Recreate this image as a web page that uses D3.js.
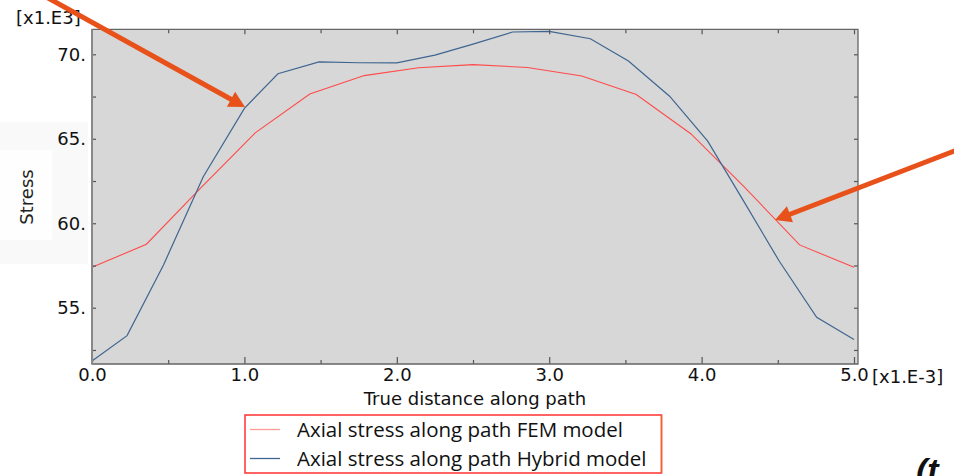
<!DOCTYPE html>
<html>
<head>
<meta charset="utf-8">
<script src="https://cdn.jsdelivr.net/npm/d3@7"></script>
<style>
  html, body { margin: 0; padding: 0; background: #fff; }
  svg { display: block; }
</style>
</head>
<body>
<svg id="chart" width="954" height="476"></svg>
<script>
// ---- Data ----
const femX = [0, 0.357, 0.714, 1.071, 1.429, 1.786, 2.143, 2.5, 2.857, 3.214, 3.571, 3.929, 4.286, 4.643, 5.0];
const femY = [57.39, 58.76, 62.1, 65.35, 67.65, 68.74, 69.2, 69.39, 69.22, 68.72, 67.62, 65.3, 62.1, 58.72, 57.39];

const hybX = [0, 0.23, 0.47, 0.73, 1.0, 1.22, 1.49, 1.75, 2.0, 2.25, 2.5, 2.76, 3.0, 3.27, 3.52, 3.79, 4.04, 4.27, 4.51, 4.755, 5.0];
const hybY = [51.85, 53.35, 57.55, 62.75, 66.8, 68.85, 69.55, 69.5, 69.49, 69.95, 70.6, 71.32, 71.36, 70.92, 69.6, 67.52, 64.86, 61.4, 57.75, 54.43, 53.12];

const xMajorTicks = [0, 1, 2, 3, 4, 5];
const xMinorTicks = [0.5, 1.5, 2.5, 3.5, 4.5];
const yMajorTicks = [55, 60, 65, 70];
const yMinorTicks = [52.5, 57.5, 62.5, 67.5];

const seriesNames = ["Axial stress along path FEM model", "Axial stress along path Hybrid model"];
const xTitle = "True distance along path";
const yTitle = "Stress";
const xUnit = "[x1.E-3]";
const yUnit = "[x1.E3]";

// ---- Layout ----
const svg = d3.select("#chart");
const frame = {left: 92, right: 858, top: 29.3, bottom: 364};
const x = d3.scaleLinear().domain([0, 5]).range([92, 854]);
const y = d3.scaleLinear().domain([51.67, 71.48]).range([364, 29.3]);

const tickFont = "'DejaVu Sans', Verdana, sans-serif";

// faint panel behind y title
svg.append("rect").attr("x", 0).attr("y", 122).attr("width", 88).attr("height", 142).attr("fill", "#f9f9f9");
svg.append("rect").attr("x", 0).attr("y", 150).attr("width", 52).attr("height", 90).attr("fill", "#fefefe");

// plot background
svg.append("rect")
  .attr("x", frame.left).attr("y", frame.top)
  .attr("width", frame.right - frame.left).attr("height", frame.bottom - frame.top)
  .attr("fill", "#d7d7d7");

// lines
const line = d3.line().x(d => x(d[0])).y(d => y(d[1]));
const femData = femX.map((v, i) => [v, femY[i]]);
const hybData = hybX.map((v, i) => [v, hybY[i]]);

svg.append("path").datum(femData).attr("d", line)
  .attr("fill", "none").attr("stroke", "#ff4a4a").attr("stroke-width", 1.1);
svg.append("path").datum(hybData).attr("d", line)
  .attr("fill", "none").attr("stroke", "#3f6590").attr("stroke-width", 1.2);

// axes
function styleAxis(g) {
  g.select(".domain").remove();
  g.selectAll(".tick line").attr("stroke", "#555").attr("stroke-width", 1.2);
  g.selectAll("text").attr("fill", "#111").style("font-family", tickFont).style("font-size", "18px");
}

// bottom
svg.append("g").attr("transform", `translate(0,${frame.bottom})`)
  .call(d3.axisBottom(x).tickValues(xMajorTicks).tickSizeInner(-7).tickSizeOuter(0).tickPadding(4).tickFormat(d3.format(".1f")))
  .call(styleAxis);
svg.append("g").attr("transform", `translate(0,${frame.bottom})`)
  .call(d3.axisBottom(x).tickValues(xMinorTicks).tickSizeInner(-4).tickSizeOuter(0).tickFormat(""))
  .call(styleAxis);
// top
svg.append("g").attr("transform", `translate(0,${frame.top})`)
  .call(d3.axisTop(x).tickValues(xMajorTicks.slice(1)).tickSizeInner(-5).tickSizeOuter(0).tickFormat(""))
  .call(styleAxis);
svg.append("g").attr("transform", `translate(0,${frame.top})`)
  .call(d3.axisTop(x).tickValues(xMinorTicks).tickSizeInner(-4).tickSizeOuter(0).tickFormat(""))
  .call(styleAxis);
// left
svg.append("g").attr("transform", `translate(${frame.left},0)`)
  .call(d3.axisLeft(y).tickValues(yMajorTicks).tickSizeInner(-4).tickSizeOuter(0).tickPadding(6).tickFormat(d => d + "."))
  .call(styleAxis);
svg.append("g").attr("transform", `translate(${frame.left},0)`)
  .call(d3.axisLeft(y).tickValues(yMinorTicks).tickSizeInner(-4).tickSizeOuter(0).tickFormat(""))
  .call(styleAxis);
// right
svg.append("g").attr("transform", `translate(${frame.right},0)`)
  .call(d3.axisRight(y).tickValues(yMajorTicks.concat(yMinorTicks)).tickSizeInner(-4).tickSizeOuter(0).tickFormat(""))
  .call(styleAxis);

// frame
svg.append("path")
  .attr("d", `M${frame.left},${frame.bottom}V${frame.top}H${frame.right}V${frame.bottom}Z`)
  .attr("fill", "none").attr("stroke", "#666").attr("stroke-width", 1.3);
svg.append("line").attr("x1", frame.left).attr("x2", frame.left).attr("y1", frame.top).attr("y2", frame.bottom)
  .attr("stroke", "#888").attr("stroke-width", 2);

// unit labels and titles
svg.append("text").attr("x", 16).attr("y", 24).text(yUnit)
  .style("font-family", tickFont).style("font-size", "18px").attr("fill", "#111");
svg.append("text").attr("x", 872).attr("y", 383).text(xUnit)
  .style("font-family", tickFont).style("font-size", "18px").attr("fill", "#111");
svg.append("text").attr("x", 475).attr("y", 405).attr("text-anchor", "middle").text(xTitle)
  .style("font-family", tickFont).style("font-size", "18px").attr("fill", "#111");
svg.append("text").attr("transform", "translate(33,197) rotate(-90)").attr("text-anchor", "middle").text(yTitle)
  .style("font-family", tickFont).style("font-size", "18px").attr("fill", "#222");

// legend
const lg = svg.append("g");
lg.append("rect").attr("x", 245).attr("y", 415).attr("width", 416.5).attr("height", 58)
  .attr("fill", "#fff").attr("stroke", "#ff3030").attr("stroke-width", 1.5);
lg.append("line").attr("x1", 661.5).attr("x2", 661.5).attr("y1", 415).attr("y2", 473)
  .attr("stroke", "#f0642a").attr("stroke-width", 1.5);
const legendColors = ["#ff9a9a", "#3f6590"];
const legendY = [429.5, 458.5];
seriesNames.forEach((name, i) => {
  lg.append("line").attr("x1", 250).attr("x2", 280).attr("y1", legendY[i]).attr("y2", legendY[i])
    .attr("stroke", legendColors[i]).attr("stroke-width", 1.3);
  lg.append("text").attr("x", 297).attr("y", legendY[i] + 7.5).text(name)
    .style("font-family", "'Open Sans', sans-serif").style("font-size", "20.5px").attr("fill", "#111");
});

// annotation arrows
function arrow(x0, y0, x1, y1) {
  const dx = x1 - x0, dy = y1 - y0, L = Math.hypot(dx, dy);
  const ux = dx / L, uy = dy / L, hl = 16, hw = 8.5;
  const bx = x1 - ux * hl, by = y1 - uy * hl;
  svg.append("line").attr("x1", x0).attr("y1", y0).attr("x2", bx + ux * 2).attr("y2", by + uy * 2)
    .attr("stroke", "#e8521a").attr("stroke-width", 5);
  svg.append("path")
    .attr("d", `M${x1},${y1}L${bx - uy * hw},${by + ux * hw}L${bx + uy * hw},${by - ux * hw}Z`)
    .attr("fill", "#e8521a");
}
arrow(30, -12, 245, 107);
arrow(962, 148, 775, 220);

// cut-off label at bottom right (cropped in the reference too)
svg.append("text").attr("x", 916).attr("y", 482).text("(t")
  .style("font-family", "'Liberation Sans', Arial, sans-serif").style("font-size", "34px")
  .style("font-weight", "bold").style("font-style", "italic").attr("fill", "#111");
</script>
</body>
</html>
